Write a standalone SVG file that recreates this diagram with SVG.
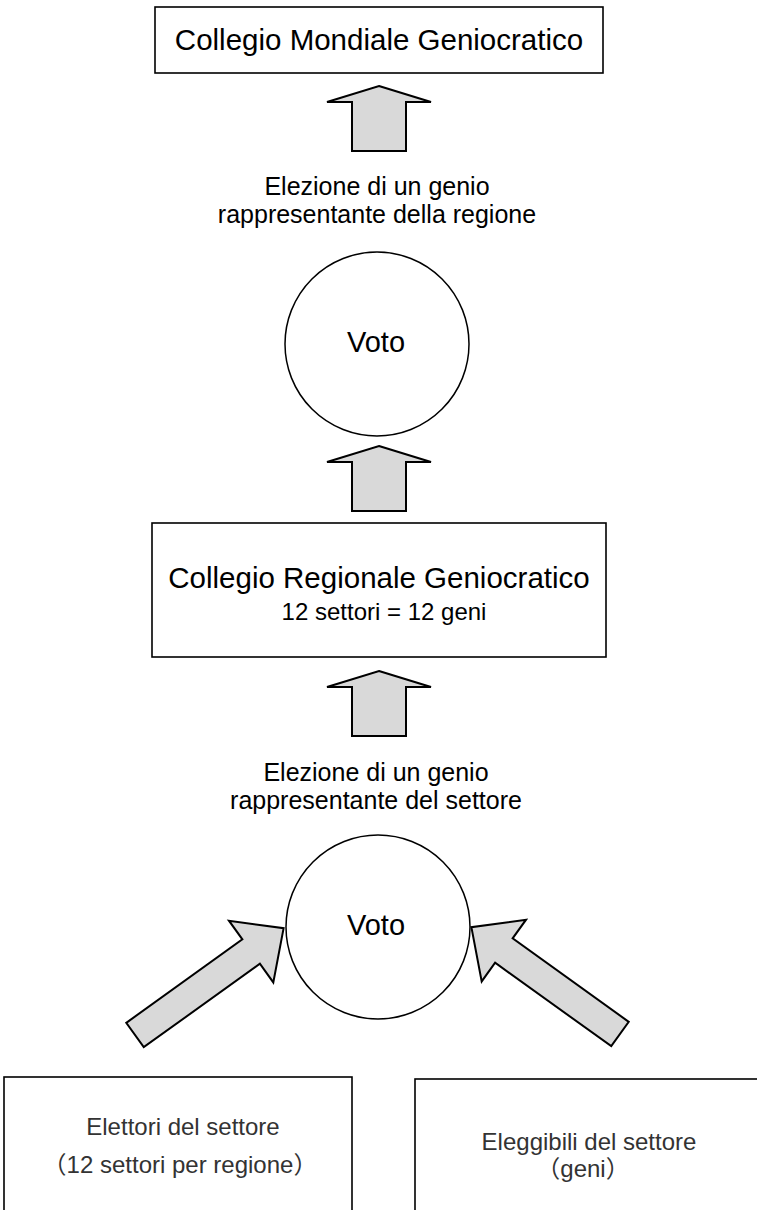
<svg xmlns="http://www.w3.org/2000/svg" width="757" height="1210" viewBox="0 0 757 1210">
<style>
.box{fill:#fff;stroke:#000;stroke-width:1.6}
.circ{fill:#fff;stroke:#000;stroke-width:1.5}
.arr{fill:#d9d9d9;stroke:#000;stroke-width:2;stroke-linejoin:miter}
.t{font-family:"Liberation Sans",Arial,"Noto Sans CJK JP",sans-serif;fill:#000;text-anchor:middle}
.g{fill:#333}
</style>
<defs>
<path id="up" d="M0,0 L52,16 L27,16 L27,65 L-27,65 L-27,16 L-52,16 Z"/>
<path id="diag" d="M0,-15 L143,-15 L143,-38 L183,0 L143,38 L143,15 L0,15 Z"/>
</defs>
<rect width="757" height="1210" fill="#fff"/>
<g id="connectors">
<use href="#up" class="arr" transform="translate(379,86)"/>
<use href="#up" class="arr" transform="translate(379,446)"/>
<use href="#up" class="arr" transform="translate(379,671)"/>
<use href="#diag" class="arr" transform="translate(135,1035) rotate(-35.7)"/>
<use href="#diag" class="arr" transform="translate(620,1034) scale(-1,1) rotate(-35.7)"/>
</g>
<g id="world-college">
<rect class="box" x="155" y="7" width="448" height="66"/>
<text class="t" x="379" y="50" font-size="29.5">Collegio Mondiale Geniocratico</text>
</g>
<g id="label-region">
<text class="t" x="377" y="195" font-size="25">Elezione di un genio</text>
<text class="t" x="377" y="223" font-size="25">rappresentante della regione</text>
</g>
<g id="vote-region">
<circle class="circ" cx="377" cy="344" r="92"/>
<text class="t" x="376" y="352" font-size="29">Voto</text>
</g>
<g id="regional-college">
<rect class="box" x="152" y="523" width="454" height="134"/>
<text class="t" x="379" y="588" font-size="29.5">Collegio Regionale Geniocratico</text>
<text class="t" x="384" y="620" font-size="24">12 settori = 12 geni</text>
</g>
<g id="label-sector">
<text class="t" x="376" y="781" font-size="25">Elezione di un genio</text>
<text class="t" x="376" y="809" font-size="25">rappresentante del settore</text>
</g>
<g id="vote-sector">
<circle class="circ" cx="378" cy="927" r="92"/>
<text class="t" x="376" y="935" font-size="29">Voto</text>
</g>
<g id="voters">
<rect class="box" x="4" y="1077" width="348" height="160"/>
<text class="t g" x="183" y="1135" font-size="24">Elettori del settore</text>
<text class="t g" x="180" y="1173" font-size="24">（12 settori per regione）</text>
</g>
<g id="eligible">
<rect class="box" x="415" y="1079" width="360" height="160"/>
<text class="t g" x="589" y="1150" font-size="24">Eleggibili del settore</text>
<text class="t g" x="583" y="1177" font-size="24">（geni）</text>
</g>
</svg>
